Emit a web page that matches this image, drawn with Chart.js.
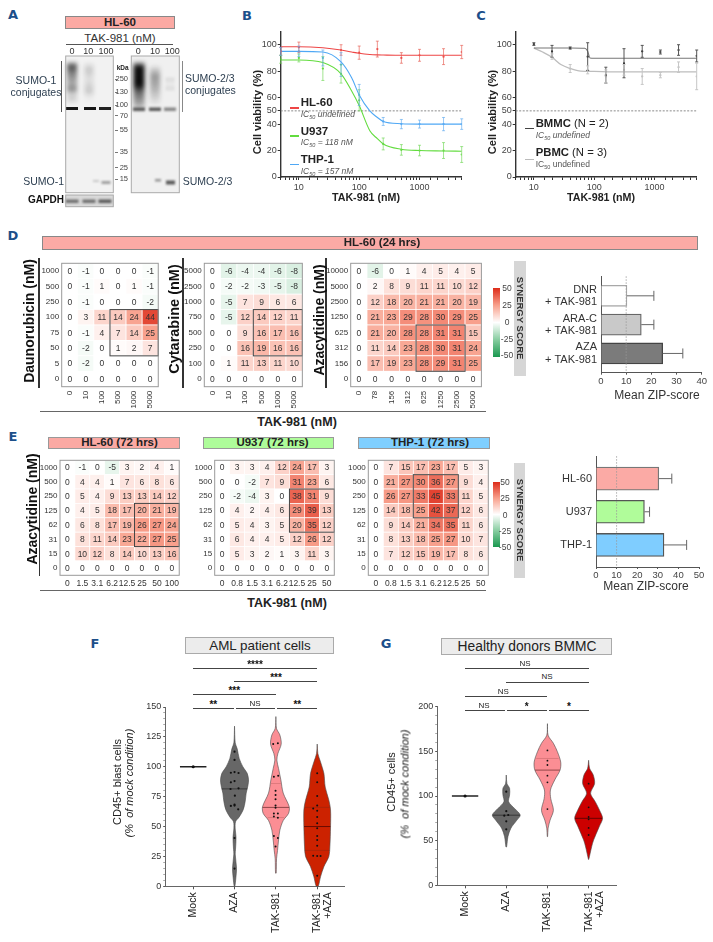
<!DOCTYPE html>
<html lang="en">
<head>
<meta charset="UTF-8" />
<title>TAK-981 synergy figure</title>
<script src="https://cdn.jsdelivr.net/npm/chart.js"></script>
<style>
  html,body{margin:0;padding:0;background:#fff;}
  #page{position:relative;width:713px;height:942px;overflow:hidden;font-family:"Liberation Sans",Arial,sans-serif;color:#222;}
  #page canvas{position:absolute;display:block;}
  .t{position:absolute;white-space:nowrap;line-height:1;}
  .t sub{font-size:65%;line-height:0;}
  .r{position:absolute;}
  .bx{position:absolute;box-sizing:border-box;}
</style>
</head>
<body>
<div id="page"></div>
<script>
// panel B
const bFitDoses = [5,10,25,50,75,100,150,200,250,500,1000,2500,5000];
const hl60Fit   = [98.5,98.5,97.7,96,94.5,93.5,92.6,92.3,92.2,92,92,92,92];
const u937Fit   = [88.5,88.5,86.5,78,65,54,35,29,25,21,20,19.7,19.5];
const thp1Fit   = [95,95,94.5,87,75,62,50,45,42,40.3,40,40,40];
const hl60Doses = [5,10,50,100,200,500,1000,2500,5000];
const hl60Means = [95,98,96,94,96.7,90,92,91,94.5];
const hl60Errs  = [3,4,4,5,6,4,4.5,6,5];
const u937Doses = [5,10,25,50,100,250,500,1000,2500,5000];
const u937Means = [89,90,82,78,58,25,20.5,20,20,17];
const u937Errs  = [3,3,9,7,8,4.5,4,4,6,6];
const thp1Doses = [5,10,25,50,100,250,500,1000,2500,5000];
const thp1Means = [95,95,90,85,62,42,40,40,40,40];
const thp1Errs  = [3,4,6,9,8,3,3.5,3,5,4];

// panel C
const cFitDoses = [10,20,40,70,78,85,100,156,312,1250,5000];
const bmmcFit   = [97.5,97.5,97.5,97.3,95,90,89.8,89.8,89.8,89.8,89.8];
const pbmcFitX  = [10,14,20,28,40,60,100,200,500,5000];
const pbmcFit   = [97.5,94.5,90.5,85,82,80,79.8,79.5,79.5,79.5];
const cDoses    = [10,20,40,78,156,312,625,1250,2500,5000];
const bmmcMeans = [100.5,95,97.5,91,77,86,95,94.5,96,91.5];
const bmmcErrs  = [1,4.5,0.8,10.5,6,11,4.5,1.5,4,4.5];
const pbmcDoses = [20,40,78,156,312,625,1250,2500,5000];
const pbmcMeans = [91,82,81,76,81,76,77,83,76];
const pbmcErrs  = [2,3,3,5,4,6,2,4,10];

// panel D
const d1X = ['0','10','100','500','1000','5000'];
const d1Y = ['1000','500','250','100','75','50','5','0'];
const d1Z = [[0,-1,0,0,0,-1],[0,-1,1,0,1,-1],[0,-1,0,0,0,-2],[0,3,11,14,24,44],[0,-1,4,7,14,25],[0,-2,0,1,2,7],[0,-2,0,0,0,0],[0,0,0,0,0,0]];
const d2X = ['0','10','100','500','1000','5000'];
const d2Y = ['5000','2500','1000','750','500','250','100','0'];
const d2Z = [[0,-6,-4,-4,-6,-8],[0,-2,-2,-3,-5,-8],[0,-5,7,9,6,6],[0,-5,12,14,12,11],[0,0,9,16,17,16],[0,0,16,19,16,16],[0,1,11,13,11,10],[0,0,0,0,0,0]];
const d3X = ['0','78','156','312','625','1250','2500','5000'];
const d3Y = ['10000','5000','2500','1250','625','312','156','0'];
const d3Z = [[0,-6,0,1,4,5,4,5],[0,2,8,9,11,11,10,12],[0,12,18,20,21,21,20,19],[0,21,23,29,28,30,29,25],[0,21,20,28,28,31,31,15],[0,11,14,23,28,30,31,24],[0,17,19,23,28,29,31,25],[0,0,0,0,0,0,0,0]];
const dZipCats  = [['DNR','+ TAK-981'],['ARA-C','+ TAK-981'],['AZA','+ TAK-981']];
const dZipMeans = [10.3,16,24.5];
const dZipTops  = [21,21,32.5];

// panel E
const eY  = ['1000','500','250','125','62','31','15','0'];
const e1X = ['0','1.5','3.1','6.2','12.5','25','50','100'];
const e1Z = [[0,-1,0,-5,3,2,4,1],[0,4,4,1,7,6,8,6],[0,5,4,9,13,13,14,12],[0,4,5,18,17,20,21,19],[0,6,8,17,19,26,27,24],[0,8,11,14,23,22,27,25],[0,10,12,8,14,10,13,16],[0,0,0,0,0,0,0,0]];
const e2X = ['0','0.8','1.5','3.1','6.2','12.5','25','50'];
const e2Z = [[0,3,3,4,12,24,17,3],[0,0,-2,7,9,31,23,6],[0,-2,-4,3,0,38,31,9],[0,4,2,4,6,29,39,13],[0,5,4,3,5,20,35,12],[0,6,4,4,5,12,26,12],[0,5,3,2,1,3,11,3],[0,0,0,0,0,0,0,0]];
const e3Z = [[0,7,15,17,23,17,5,3],[0,21,27,30,36,27,9,4],[0,26,27,33,45,33,11,5],[0,14,18,25,42,37,12,6],[0,9,14,21,34,35,11,6],[0,8,13,18,25,27,10,7],[0,7,12,15,19,17,8,6],[0,0,0,0,0,0,0,0]];
const eZipCats  = ['HL-60','U937','THP-1'];
const eZipMeans = [30.5,23.5,33];
const eZipTops  = [36.8,26,44];

// panels F and G: violin outlines are value / half-width pairs
const violinCats = ['Mock','AZA','TAK-981',['TAK-981','+AZA']];
const fAzaLevels = [134,120,115,107,100,94.5,89,84,78,71,64,58,54,48,41,31,27,15,7,0];
const fAzaDens   = [0,2,8,14,25,38,42,40,35,32,26,14,3,2,4.5,3,2,6,4,1];
const fTakLevels = [142,132,126.6,119,111,105.6,98.6,89,78,66.6,61,55,47,38.7,30,23,11];
const fTakDens   = [0,2,12,16,6,3,8,15,22,40,38,22,12,8,5,2,1];
const fComLevels = [119,111,104,94.5,83,72,64,50,33,25,16.4,8,0];
const fComDens   = [0,2,10,20,24,35,40,40,38,35,20,10,3];
const fAzaDots = [112.6,105.7,95,95.6,94.8,87,88,82,81.4,75.8,68.3,67.2,67.5,64.4,40.4,14.8];
const fAzaDx   = [0,0,-11,0,12,-11,0,12,-12,1,0,-11,0,11,0,0];
const fTakDots = [119,119.6,91.7,92.5,80,76.4,72.8,67.7,65.8,61,61,58.3,57.4,42,40.4,33.2];
const fTakDx   = [-8,6,-6,7,-1,-1,-1,-1,-1,-6,6,-6,6,-6,6,-1];
const fComDots = [94.5,87,75.5,67.5,65,63.3,58,52.7,48.5,42,38.8,34,25.6,25.4,25.4,8.9];
const fComDx   = [0,0,0,0,-12,0,0,0,0,0,0,0,-12,0,10,0];
const gAzaLevels = [123.5,114,108.6,101,93.6,86,78.7,73,64,54.5,43];
const gAzaDens   = [0,2,10,10,7,25,42,32,14,5,1];
const gTakLevels = [181,168,159,149.6,138,129,118,106.7,97,84,73,64,54.5];
const gTakDens   = [0,2,18,30,40,38,22,9,10,18,8,2,0.5];
const gComLevels = [140,131,123.5,114,103,93.6,84,75,65.7,50.7,43,29];
const gComDens   = [0,3,14,18,6,20,33,42,32,15,9,0.5];
const gAzaDots = [104.8,83,78,78.7,71.6,62.7];
const gAzaDx   = [0,0,-6,6,0,0];
const gTakDots = [151,139.6,134.7,122.8,115.3,85.4];
const gComDots = [113.8,87.3,76.5,73.9,64.2,56.3];

const page = document.getElementById('page');
const FONT = '"Liberation Sans",Arial,sans-serif';
Chart.defaults.font.family = FONT;
Chart.defaults.animation = false;
Chart.defaults.responsive = false;
Chart.defaults.devicePixelRatio = 1;

// absolutely placed text, x/y is the anchor centre
function txt(html, x, y, o = {}) {
  const d = document.createElement('div');
  d.className = 't';
  d.innerHTML = html;
  const a = o.align === 'l' ? '0' : o.align === 'r' ? '-100%' : '-50%';
  d.style.cssText = `left:${x}px;top:${y}px;font-size:${o.size || 10}px;color:${o.color || '#222'};`
    + `font-weight:${o.bold ? 700 : 400};font-style:${o.italic ? 'italic' : 'normal'};`
    + `font-family:${o.font || FONT};transform:translate(${a},-50%) rotate(${o.rot || 0}deg);`;
  page.appendChild(d);
}
function rule(x0, y0, x1, y1, color = '#555', w = 1) {
  const d = document.createElement('div');
  d.className = 'r';
  if (y0 === y1) d.style.cssText = `left:${x0}px;top:${y0 - w / 2}px;width:${x1 - x0}px;height:${w}px;background:${color}`;
  else d.style.cssText = `left:${x0 - w / 2}px;top:${y0}px;width:${w}px;height:${y1 - y0}px;background:${color}`;
  page.appendChild(d);
}
function band(x0, y0, x1, y1, fill, border) {
  const d = document.createElement('div');
  d.className = 'bx';
  d.style.cssText = `left:${x0}px;top:${y0}px;width:${x1 - x0}px;height:${y1 - y0}px;background:${fill};border:1px solid ${border}`;
  page.appendChild(d);
}
// canvas around a plot box so that the chart area lands exactly on the box
function place(box, m) {
  const cv = document.createElement('canvas');
  const cl = Math.floor(box.x0 - m.l), ct = Math.floor(box.y0 - m.t);
  const cw = Math.ceil(box.x1 + m.r) - cl, ch = Math.ceil(box.y1 + m.b) - ct;
  cv.width = cw; cv.height = ch;
  cv.style.left = cl + 'px'; cv.style.top = ct + 'px';
  cv.style.width = cw + 'px'; cv.style.height = ch + 'px';
  page.appendChild(cv);
  return {
    cv,
    layout: { autoPadding: false, padding: { left: 0, bottom: 0, top: box.y0 - ct, right: cl + cw - box.x1 } },
    yw: box.x0 - cl,
    xh: ct + ch - box.y1
  };
}
const noPlugins = { legend: { display: false }, tooltip: { enabled: false } };

// vertical error bars for curve points, horizontal one-sided bars for bar charts
const errBars = {
  id: 'errBars',
  afterDatasetsDraw(c) {
    const ctx = c.ctx, xs = c.scales.x, ys = c.scales.y;
    c.data.datasets.forEach(d => {
      if (d.err) {
        ctx.strokeStyle = d.errColor; ctx.lineWidth = d.errWidth || 1;
        d.data.forEach((p, i) => {
          const x = xs.getPixelForValue(p.x), a = ys.getPixelForValue(p.y - d.err[i]), b = ys.getPixelForValue(p.y + d.err[i]);
          ctx.beginPath();
          ctx.moveTo(x, a); ctx.lineTo(x, b);
          ctx.moveTo(x - 1.5, a); ctx.lineTo(x + 1.5, a);
          ctx.moveTo(x - 1.5, b); ctx.lineTo(x + 1.5, b);
          ctx.stroke();
        });
      }
      if (d.tops) {
        ctx.strokeStyle = '#666'; ctx.lineWidth = 1;
        d.data.forEach((p, i) => {
          const y = ys.getPixelForValue(p.y), a = xs.getPixelForValue(p.x), b = xs.getPixelForValue(d.tops[i]);
          ctx.beginPath();
          ctx.moveTo(a, y); ctx.lineTo(b, y);
          ctx.moveTo(b, y - 5); ctx.lineTo(b, y + 5);
          ctx.stroke();
        });
      }
    });
  }
};
const refLine = {
  id: 'refLine',
  afterDraw(c, _a, o) {
    if (o.x === undefined) return;
    const x = c.scales.x.getPixelForValue(o.x), ctx = c.ctx;
    ctx.save();
    ctx.strokeStyle = '#999'; ctx.lineWidth = 0.8; ctx.setLineDash([1.5, 1.5]);
    ctx.beginPath(); ctx.moveTo(x, c.chartArea.top); ctx.lineTo(x, c.chartArea.bottom); ctx.stroke();
    ctx.restore();
  }
};

function curveSet(xs, ys, color, w = 1.1) {
  return { type: 'scatter', showLine: true, cubicInterpolationMode: 'monotone', data: xs.map((x, i) => ({ x, y: ys[i] })), borderColor: color, borderWidth: w, pointRadius: 0, order: 2 };
}
function pointSet(xs, ys, errs, color, errColor) {
  return { type: 'scatter', data: xs.map((x, i) => ({ x, y: ys[i] })), err: errs, errColor, pointRadius: 1.1, pointBackgroundColor: color, pointBorderWidth: 0, order: 1 };
}
function doseChart(box, datasets) {
  const p = place(box, { l: 40, t: 8, r: 14, b: 22 });
  return new Chart(p.cv, {
    type: 'scatter',
    data: {
      datasets: [
        ...datasets,
        { type: 'scatter', showLine: true, data: [{ x: 5, y: 50 }, { x: 5000, y: 50 }], borderColor: '#8a8a8a', borderWidth: 1, borderDash: [2, 1.5], pointRadius: 0, order: 3 }
      ]
    },
    plugins: [errBars],
    options: {
      layout: p.layout,
      plugins: noPlugins,
      scales: {
        x: {
          type: 'logarithmic', min: 5, max: 5000,
          afterFit(s) { s.height = p.xh; },
          border: { color: '#333', width: 1.4 },
          grid: { drawOnChartArea: false, tickLength: 3, tickColor: '#333' },
          ticks: { autoSkip: false, maxRotation: 0, padding: 2, color: '#444', font: { size: 9 }, callback: v => [10, 100, 1000].includes(v) ? String(v) : '' }
        },
        y: {
          min: 0, max: 110,
          afterBuildTicks(s) { s.ticks = [0, 20, 40, 50, 60, 80, 100].map(value => ({ value })); },
          afterFit(s) { s.width = p.yw; },
          border: { color: '#333', width: 1.4 },
          grid: { drawOnChartArea: false, tickLength: 3, tickColor: '#333' },
          ticks: { autoSkip: false, padding: 1, color: '#444', font: { size: 9 } }
        }
      }
    }
  });
}

// synergy ramp shared by cells and colour bars
function synergyColor(v) {
  const a = Math.min(Math.abs(v), 50);
  const mid = v >= 0 ? [248, 160, 140] : [135, 205, 160], end = v >= 0 ? [221, 44, 26] : [26, 152, 80];
  const from = a <= 25 ? [255, 255, 255] : mid, to = a <= 25 ? mid : end, t = a <= 25 ? a / 25 : (a - 25) / 25;
  return `rgb(${from.map((f, i) => Math.round(f + (to[i] - f) * t)).join(',')})`;
}
const heatCells = {
  id: 'heatCells',
  afterDatasetsDraw(c) {
    const ctx = c.ctx, xs = c.scales.x, ys = c.scales.y, a = c.chartArea;
    const d = c.data.datasets[0], pts = c.getDatasetMeta(0).data;
    const w = a.width / c.data.xLabels.length, h = a.height / c.data.yLabels.length;
    pts.forEach((pt, i) => {
      ctx.fillStyle = synergyColor(d.data[i].v);
      ctx.fillRect(pt.x - w / 2, pt.y - h / 2, w, h);
      ctx.strokeStyle = '#fff'; ctx.lineWidth = 0.7;
      ctx.strokeRect(pt.x - w / 2, pt.y - h / 2, w, h);
    });
    ctx.font = '8.5px ' + FONT; ctx.fillStyle = '#333'; ctx.textAlign = 'center'; ctx.textBaseline = 'middle';
    pts.forEach((pt, i) => ctx.fillText(String(d.data[i].v), pt.x, pt.y + 0.5));
    const [c0, c1, r0, r1] = d.hot;
    ctx.strokeStyle = '#444'; ctx.lineWidth = 1;
    ctx.strokeRect(xs.getPixelForValue(c0) - w / 2, ys.getPixelForValue(r0) - h / 2, (c1 - c0 + 1) * w, (r1 - r0 + 1) * h);
    ctx.strokeStyle = '#999'; ctx.lineWidth = 1;
    ctx.strokeRect(a.left, a.top, a.width, a.height);
  }
};
function heatmap(box, xLabels, yLabels, z, hot, rotated) {
  const p = place(box, { l: 26, t: 2, r: 2, b: rotated ? 24 : 14 });
  const pts = [];
  yLabels.forEach((yl, r) => xLabels.forEach((xl, k) => pts.push({ x: xl, y: yl, v: z[r][k] })));
  return new Chart(p.cv, {
    type: 'scatter',
    data: { xLabels, yLabels, datasets: [{ data: pts, hot, pointRadius: 0 }] },
    plugins: [heatCells],
    options: {
      layout: p.layout,
      plugins: noPlugins,
      scales: {
        x: {
          type: 'category', offset: true,
          afterFit(s) { s.height = p.xh; },
          border: { display: false }, grid: { display: false, drawTicks: false },
          ticks: { autoSkip: false, minRotation: rotated ? 90 : 0, maxRotation: rotated ? 90 : 0, padding: rotated ? 4 : 3, color: '#333', font: { size: rotated ? 8 : 8.5 } }
        },
        y: {
          type: 'category', offset: true,
          afterFit(s) { s.width = p.yw; },
          border: { display: false }, grid: { display: false, drawTicks: false },
          ticks: { autoSkip: false, padding: 2.5, color: '#333', font: { size: 8 } }
        }
      }
    }
  });
}
function zipBars(box, cats, means, tops, fills, edges, xMax, first, gap, thick, labelSize) {
  const p = place(box, { l: 62, t: 4, r: 10, b: 16 });
  const yMin = (box.y0 - first) / gap, yMax = (box.y1 - first) / gap;
  return new Chart(p.cv, {
    type: 'bar',
    data: {
      datasets: [{
        data: means.map((x, y) => ({ x, y })), tops,
        backgroundColor: fills, borderColor: edges, borderWidth: 1.3, barThickness: thick
      }]
    },
    plugins: [errBars, refLine],
    options: {
      indexAxis: 'y',
      layout: p.layout,
      plugins: { ...noPlugins, refLine: { x: 10 } },
      scales: {
        x: {
          type: 'linear', min: 0, max: xMax,
          afterBuildTicks(s) { s.ticks = []; for (let v = 0; v <= xMax; v += 10) s.ticks.push({ value: v }); },
          afterFit(s) { s.height = p.xh; },
          border: { color: '#555', width: 1 },
          grid: { drawOnChartArea: false, tickLength: 2, tickColor: '#555' },
          ticks: { autoSkip: false, maxRotation: 0, padding: 1, color: '#444', font: { size: 9.5 } }
        },
        y: {
          type: 'linear', reverse: true, offset: false, min: yMin, max: yMax,
          afterBuildTicks(s) { s.ticks = cats.map((_, value) => ({ value })); },
          afterFit(s) { s.width = p.yw; },
          border: { color: '#555', width: 1 },
          grid: { display: false, drawTicks: false },
          ticks: { autoSkip: false, padding: 4, color: '#333', font: { size: labelSize, lineHeight: 1.12 }, callback: v => cats[v] }
        }
      }
    }
  });
}

// violin = closed line dataset through both flanks of the density
const DENS = 1 / 124;
function violin(pos, levels, dens, fill) {
  const right = levels.map((y, i) => ({ x: pos + dens[i] * DENS, y }));
  const left = levels.map((y, i) => ({ x: pos - dens[i] * DENS, y })).reverse();
  return { data: [...right, ...left], showLine: true, fill: 'shape', tension: 0.3, backgroundColor: fill, borderColor: '#4a4a4a', borderWidth: 0.6, pointRadius: 0, order: 3, clip: false };
}
function hline(pos, y, hw, color, w) {
  return { data: [{ x: pos - hw, y }, { x: pos + hw, y }], showLine: true, borderColor: color, borderWidth: w, pointRadius: 0, order: 2 };
}
function dots(pos, vals, dx, r = 1.1) {
  return { data: vals.map((y, i) => ({ x: pos + (dx ? dx[i] : 0) * DENS, y })), pointRadius: r, pointBackgroundColor: '#111', pointBorderWidth: 0, order: 1 };
}
function violinChart(box, yMax, step, labelStep, datasets) {
  const p = place(box, { l: 30, t: 8, r: 8, b: 60 });
  return new Chart(p.cv, {
    type: 'scatter',
    data: { datasets },
    options: {
      layout: p.layout,
      plugins: noPlugins,
      scales: {
        x: {
          min: -0.665, max: 3.665,
          afterBuildTicks(s) { s.ticks = violinCats.map((_, value) => ({ value })); },
          afterFit(s) { s.height = p.xh; },
          border: { color: '#666', width: 1 },
          grid: { drawOnChartArea: false, tickLength: 3, tickColor: '#555' },
          ticks: { autoSkip: false, minRotation: 90, maxRotation: 90, padding: 3, color: '#222', font: { size: 10.5, lineHeight: 1.05 }, callback: v => violinCats[v] }
        },
        y: {
          min: 0, max: yMax,
          ticks: { stepSize: step, autoSkip: false, padding: 2, color: '#333', font: { size: 9 }, callback: v => v % labelStep === 0 ? String(v) : '' },
          afterFit(s) { s.width = p.yw; },
          border: { color: '#666', width: 1 },
          grid: { drawOnChartArea: false, tickLength: 2.5, tickColor: c => c.tick.value % labelStep === 0 ? '#555' : '#aaa' }
        }
      }
    }
  });
}

/* ---------- panel letters ---------- */
const letterStyle = { size: 13, bold: true, color: '#1c4f8a', font: '"DejaVu Sans",sans-serif' };
[['A', 13, 14], ['B', 247, 15], ['C', 481, 15], ['D', 13, 235], ['E', 13, 436], ['F', 95, 643], ['G', 386, 643]]
  .forEach(([s, x, y]) => txt(s, x, y, letterStyle));

/* ---------- A: immunoblots (image-like, plain canvas) ---------- */
(function blots() {
  const cv = document.createElement('canvas');
  cv.width = 125; cv.height = 160;
  cv.style.cssText = 'left:60px;top:50px;width:125px;height:160px';
  page.appendChild(cv);
  const ctx = cv.getContext('2d');
  const X = 60, Y = 50;
  function frame(x0, y0, x1, y1, bg) {
    ctx.fillStyle = bg; ctx.fillRect(x0 - X, y0 - Y, x1 - x0, y1 - y0);
  }
  function smear(cx, w, y0, y1, stops, blur = 1.2) {
    const g = ctx.createLinearGradient(0, y0 - Y, 0, y1 - Y);
    stops.forEach(([o, a]) => g.addColorStop(o, `rgba(10,10,10,${a})`));
    ctx.filter = `blur(${blur}px)`;
    ctx.fillStyle = g; ctx.fillRect(cx - w / 2 - X, y0 - Y, w, y1 - y0);
    ctx.filter = 'none';
  }
  frame(65.7, 56, 113.3, 192.7, '#f2f2f2');
  frame(131.3, 56, 179.3, 192.7, '#f0f0f0');
  frame(65.7, 195, 113.3, 206.7, '#d9d9d9');
  smear(72, 10, 62, 104, [[0, .2], [.1, .7], [.3, .45], [.5, .3], [.65, .45], [.75, .14], [.9, .14], [1, 0]], 2);
  smear(89, 9, 63, 104, [[0, .03], [.15, .18], [.4, .08], [.7, .18], [.8, .04], [1, 0]], 2);
  [[72, .95], [90, .95], [105, .9]].forEach(([x, a]) => smear(x, 12, 107, 110, [[0, a], [1, a]], 0.7));
  smear(96, 6, 180, 182, [[0, .18], [1, .18]]);
  smear(106, 9, 181, 184, [[0, .35], [1, .35]]);
  smear(139, 11, 62, 112, [[0, .2], [.1, .98], [.45, 1], [.6, .6], [.85, .3], [1, 0]], 2);
  smear(155, 10, 66, 106, [[0, .05], [.25, .38], [.55, .28], [.8, .13], [1, 0]], 2);
  smear(170, 9, 76, 92, [[0, 0], [.2, .08], [.5, .02], [.8, .08], [1, 0]]);
  [[139, .6], [155, .65], [170, .45]].forEach(([x, a]) => smear(x, 12, 107.5, 111, [[0, a], [1, a]], 0.8));
  smear(158, 6, 179, 181.5, [[0, .4], [1, .4]]);
  smear(170.5, 9, 180.5, 184.5, [[0, .65], [1, .65]]);
  [[72, .5], [89, .5], [105, .6]].forEach(([x, a]) => smear(x, 13, 199.5, 203, [[0, a], [1, a]], 0.9));
  ctx.strokeStyle = '#aaa'; ctx.lineWidth = 1;
  [[65.7, 56, 47.6, 136.7], [131.3, 56, 48, 136.7], [65.7, 195, 47.6, 11.7]].forEach(([x, y, w, h]) => ctx.strokeRect(x - X, y - Y, w, h));
})();
band(65, 16, 174.7, 28.7, '#fba9a3', '#888');
txt('HL-60', 120, 22.7, { size: 11.5, bold: true });
txt('TAK-981 (nM)', 120, 38.7, { size: 11.5, color: '#333' });
rule(66, 44.7, 173, 44.7, '#555', 1);
[['0', 72], ['10', 88.3], ['100', 106], ['0', 138.3], ['10', 155], ['100', 172.3]].forEach(([s, x]) => txt(s, x, 50.7, { size: 9, color: '#333' }));
rule(61.7, 60.7, 61.7, 112, '#555', 1);
rule(182.7, 60.7, 182.7, 112, '#888', 1.2);
const blotLabel = { size: 10.5, color: '#2c3e50' };
txt('SUMO-1', 36, 80, blotLabel);
txt('conjugates', 36, 91.7, blotLabel);
txt('SUMO-2/3', 185, 78.3, { ...blotLabel, align: 'l' });
txt('conjugates', 185, 90, { ...blotLabel, align: 'l' });
txt('SUMO-1', 64, 180.7, { ...blotLabel, align: 'r' });
txt('SUMO-2/3', 182.7, 181, { ...blotLabel, align: 'l' });
txt('GAPDH', 64, 200.3, { size: 10, bold: true, align: 'r', color: '#111' });
txt('kDa', 122.7, 68.3, { size: 6.5, bold: true });
[['250', 79.3], ['130', 92], ['100', 105], ['70', 115.7], ['55', 130], ['35', 152], ['25', 167.7], ['15', 179]].forEach(([s, y]) => {
  txt(s, 128, y, { size: 7.5, align: 'r', color: '#444' });
  rule(115, y, 117.5, y, '#777', 0.8);
});

/* ---------- B ---------- */
const RED = '#ee4646', GREEN = '#62dc3e', BLUE = '#4fa8f5';
doseChart({ x0: 280.7, x1: 461.7, y0: 31.5, y1: 177 }, [
  curveSet(bFitDoses, hl60Fit, RED),
  curveSet(bFitDoses, u937Fit, GREEN),
  curveSet(bFitDoses, thp1Fit, BLUE),
  pointSet(hl60Doses, hl60Means, hl60Errs, RED, 'rgba(230,90,80,.65)'),
  pointSet(u937Doses, u937Means, u937Errs, GREEN, 'rgba(110,215,85,.65)'),
  pointSet(thp1Doses, thp1Means, thp1Errs, BLUE, 'rgba(95,170,240,.65)')
]);
txt('Cell viability (%)', 256.7, 111.7, { size: 11, bold: true, rot: -90 });
txt('TAK-981 (nM)', 366, 196.7, { size: 10.7, bold: true });
[['HL-60', '<i>IC<sub>50</sub> undefined</i>', RED, 103, 108, 114], ['U937', '<i>IC<sub>50</sub> = 118 nM</i>', GREEN, 131.7, 136, 142], ['THP-1', '<i>IC<sub>50</sub> = 157 nM</i>', BLUE, 160, 164.7, 171]]
  .forEach(([n, ic, col, yn, yl, yi]) => {
    rule(290, yl, 299, yl, col, 1.2);
    txt(n, 300.7, yn, { size: 11.5, bold: true, align: 'l' });
    txt(ic, 300.7, yi, { size: 8.5, align: 'l', color: '#555' });
  });

/* ---------- C ---------- */
doseChart({ x0: 515.7, x1: 696.7, y0: 31.5, y1: 177 }, [
  curveSet(cFitDoses, bmmcFit, '#777'),
  curveSet(pbmcFitX, pbmcFit, '#bdbdbd', 1.3),
  pointSet(cDoses, bmmcMeans, bmmcErrs, '#111', '#555'),
  pointSet(pbmcDoses, pbmcMeans, pbmcErrs, '#bbb', '#c6c6c6')
]);
txt('Cell viability (%)', 491.7, 111.7, { size: 11, bold: true, rot: -90 });
txt('TAK-981 (nM)', 601, 196.7, { size: 10.7, bold: true });
rule(525, 128.3, 534, 128.3, '#444', 1);
txt('<b>BMMC</b> (N = 2)', 535.7, 124.3, { size: 11.3, align: 'l' });
txt('<i>IC<sub>50</sub> undefined</i>', 535.7, 135, { size: 8.5, align: 'l', color: '#555' });
rule(525, 159, 534, 159, '#bbb', 1);
txt('<b>PBMC</b> (N = 3)', 535.7, 153.3, { size: 11.3, align: 'l' });
txt('IC<sub>50</sub> undefined', 535.7, 164, { size: 8.5, align: 'l', color: '#555' });

/* ---------- D ---------- */
band(42.3, 236, 698.3, 250, '#fbaaa5', '#888');
txt('HL-60 (24 hrs)', 382, 243, { size: 11.5, bold: true });
heatmap({ x0: 61.7, x1: 161.7, y0: 258.3, y1: 386.7 }, d1X, d1Y, d1Z, [3, 5, 3, 5], true);
heatmap({ x0: 204.3, x1: 305.3, y0: 258.3, y1: 386.7 }, d2X, d2Y, d2Z, [3, 5, 3, 5], true);
heatmap({ x0: 350.7, x1: 484.3, y0: 258.3, y1: 386.7 }, d3X, d3Y, d3Z, [4, 6, 4, 6], true);
rule(39, 258, 39, 388, '#333', 1.5);
rule(183, 258, 183, 388, '#333', 1.5);
rule(326, 258, 326, 388, '#333', 1.5);
rule(40, 411.3, 485.7, 411.3, '#666', 1.5);
const drugTitle = { size: 14, bold: true, rot: -90, color: '#111' };
txt('Daunorubicin (nM)', 29.3, 321, drugTitle);
txt('Cytarabine (nM)', 174, 319, { ...drugTitle, size: 14.5 });
txt('Azacytidine (nM)', 319, 320, drugTitle);
txt('TAK-981 (nM)', 297, 421.5, { size: 12.5, bold: true });

function colorBar(x, y0, y1, cx, labelYs) {
  const d = document.createElement('div');
  d.className = 'r';
  const stops = [50, 25, 0, -25, -50].map(v => synergyColor(v)).join(',');
  d.style.cssText = `left:${x}px;top:${y0}px;width:7px;height:${y1 - y0}px;background:linear-gradient(to bottom,${stops})`;
  page.appendChild(d);
  ['50', '25', '0', '-25', '-50'].forEach((s, i) => txt(s, cx, labelYs[i], { size: 8.5, color: '#444' }));
}
colorBar(493, 288.3, 356.7, 507, [288.3, 305.3, 322.3, 338.7, 355]);
band(514, 260.7, 525.7, 375.7, '#d6d6d6', '#d6d6d6');
txt('SYNERGY SCORE', 519.8, 318, { size: 9.5, bold: true, rot: 90, color: '#333' });

zipBars({ x0: 601, x1: 701.7, y0: 264, y1: 372.7 }, dZipCats, dZipMeans, dZipTops,
  ['#ffffff', '#c9c9c9', '#7b7b7b'], ['#a8a8a8', '#666', '#444'], 40, 286, 32.5, 21, 11);
txt('Mean ZIP-score', 657, 395, { size: 12, color: '#333' });

/* ---------- E ---------- */
band(48.3, 436.7, 180, 449.3, '#fba9a3', '#999');
txt('HL-60 (72 hrs)', 119.5, 443, { size: 11.5, bold: true });
band(202.7, 436.7, 334.3, 449.3, '#aefc9a', '#999');
txt('U937 (72 hrs)', 272.5, 443, { size: 11.5, bold: true });
band(357.7, 436.7, 489.7, 449.3, '#7fcfff', '#999');
txt('THP-1 (72 hrs)', 430, 443, { size: 11.5, bold: true });
heatmap({ x0: 60, x1: 180, y0: 455.7, y1: 575.3 }, e1X, eY, e1Z, [5, 7, 3, 5], false);
heatmap({ x0: 214.7, x1: 334.3, y0: 455.7, y1: 575.3 }, e2X, eY, e2Z, [5, 7, 2, 4], false);
heatmap({ x0: 368.3, x1: 488.3, y0: 455.7, y1: 575.3 }, e2X, eY, e3Z, [3, 5, 1, 3], false);
rule(39.3, 455, 39.3, 575.7, '#333', 1.5);
rule(40, 590.3, 485.7, 590.3, '#666', 1.5);
txt('Azacytidine (nM)', 31.7, 509, drugTitle);
txt('TAK-981 (nM)', 287, 603, { size: 12.5, bold: true });
colorBar(492.7, 481.7, 547.3, 505, [482, 498, 515, 531, 547]);
band(514, 462.7, 525.3, 577.7, '#d6d6d6', '#d6d6d6');
txt('SYNERGY SCORE', 519.7, 520, { size: 9.5, bold: true, rot: 90, color: '#333' });

zipBars({ x0: 596, x1: 699, y0: 450, y1: 567 }, eZipCats, eZipMeans, eZipTops,
  ['#fbaaa5', '#b0fc9a', '#7fcdff'], ['#777', '#555', '#555'], 50, 473.7, 35, 23, 11);
txt('Mean ZIP-score', 646, 585.7, { size: 12, color: '#333' });

/* ---------- F ---------- */
const V_GREY = '#676767', V_PINK = '#fb8e94', V_RED = '#cc2200', V_DEEP = '#cc0000';
function sig(x0, x1, y, label, lx, ly, stars) {
  rule(x0, y, x1, y, '#444', 1);
  if (label) txt(label, lx, ly, stars ? { size: 10, bold: true, color: '#111' } : { size: 8, color: '#222' });
}
band(185.3, 636.7, 334.3, 654.3, '#ececec', '#aaa');
txt('AML patient cells', 260, 645.5, { size: 13.4 });
sig(193.3, 317.3, 668.3, '****', 255, 664.5, true);
sig(234.3, 317.3, 681.3, '***', 276, 677.5, true);
sig(193.3, 276, 694.3, '***', 234.3, 690.5, true);
sig(193.3, 233.7, 708.7, '**', 213.3, 704.5, true);
sig(235.7, 275, 708.7, 'NS', 255, 703.7, false);
sig(277, 317.3, 708.7, '**', 297.3, 704.5, true);
violinChart({ x0: 165.7, x1: 344.7, y0: 707, y1: 886.3 }, 150, 5, 25, [
  dots(0, [100], null, 1.6), dots(1, fAzaDots, fAzaDx), dots(2, fTakDots, fTakDx, 1), dots(3, fComDots, fComDx, 1),
  hline(0, 100, 0.32, '#222', 1.5),
  hline(1, 81.5, 0.31, 'rgba(30,30,30,.75)', 0.8),
  hline(2, 66, 0.32, 'rgba(90,30,30,.8)', 0.8), hline(2, 86, 0.12, 'rgba(150,70,70,.4)', 0.7), hline(2, 57.5, 0.2, 'rgba(150,70,70,.4)', 0.7),
  hline(3, 50, 0.32, 'rgba(60,0,0,.85)', 0.8), hline(3, 30, 0.3, 'rgba(120,40,20,.5)', 0.7), hline(3, 66, 0.3, 'rgba(120,40,20,.5)', 0.7),
  violin(1, fAzaLevels, fAzaDens, V_GREY),
  violin(2, fTakLevels, fTakDens, V_PINK),
  violin(3, fComLevels, fComDens, V_RED)
]);
txt('CD45+ blast cells', 116.7, 781.7, { size: 11, rot: -90 });
txt('(%&nbsp; of mock condition)', 129, 783, { size: 11, italic: true, rot: -90 });

/* ---------- G ---------- */
band(441.3, 637.7, 612.3, 655.3, '#ececec', '#aaa');
txt('Healthy donors BMMC', 527, 646.5, { size: 13.8 });
sig(465, 588.7, 668.3, 'NS', 525, 663.7, false);
sig(506, 588.7, 682.3, 'NS', 547, 677.3, false);
sig(465, 547.3, 696.3, 'NS', 503.3, 692, false);
sig(465, 505, 710.3, 'NS', 484, 706, false);
sig(507, 546.7, 710.3, '*', 526.7, 707, true);
sig(548.7, 588.7, 710.3, '*', 569, 707, true);
violinChart({ x0: 437.7, x1: 616, y0: 706.7, y1: 885.3 }, 200, 10, 50, [
  dots(0, [100], null, 1.6), dots(1, gAzaDots, gAzaDx), dots(2, gTakDots, null, 0.9), dots(3, gComDots, null, 0.9),
  hline(0, 100, 0.32, '#222', 1.5),
  hline(1, 78.5, 0.33, 'rgba(30,30,30,.8)', 0.8),
  hline(2, 129, 0.3, 'rgba(90,30,30,.8)', 0.8), hline(2, 142, 0.27, 'rgba(150,70,70,.4)', 0.7),
  hline(3, 75, 0.33, 'rgba(60,0,0,.85)', 0.8),
  violin(1, gAzaLevels, gAzaDens, V_GREY),
  violin(2, gTakLevels, gTakDens, V_PINK),
  violin(3, gComLevels, gComDens, V_DEEP)
]);
txt('CD45+ cells', 390.7, 781.7, { size: 11, rot: -90 });
txt('(%&nbsp; of mock condition)', 404.5, 783.5, { size: 11, italic: true, rot: -90 });
</script>
</body>
</html>
